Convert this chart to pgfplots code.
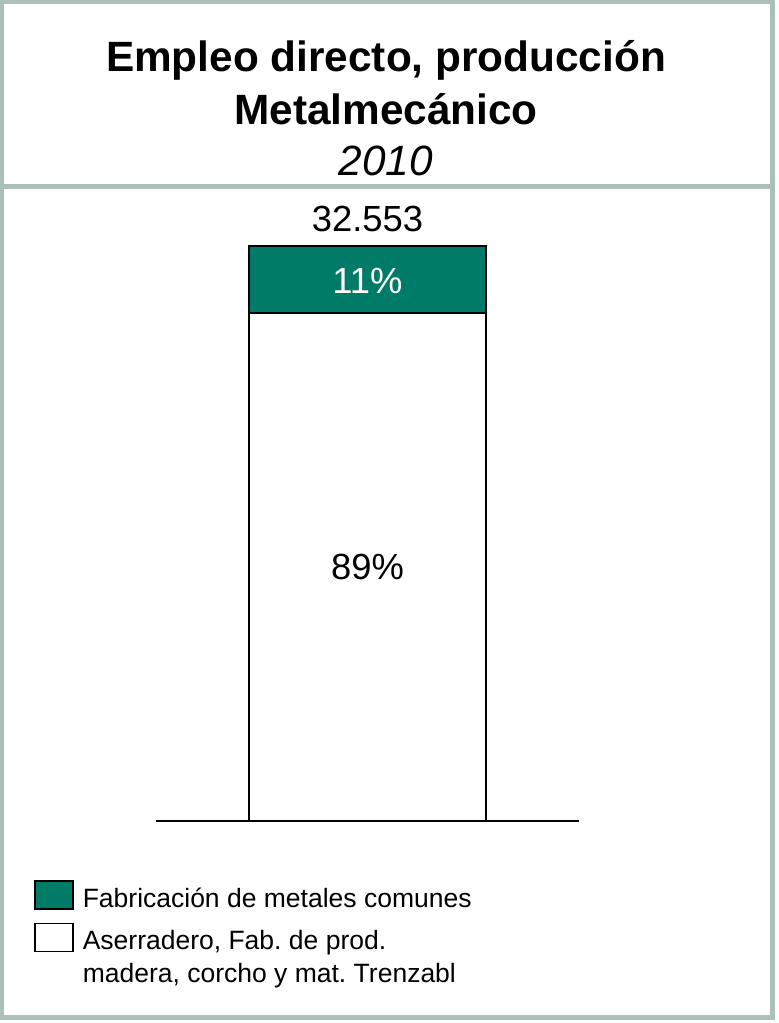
\documentclass[border=0pt]{standalone}
\usepackage{pgfplots}
\pgfplotsset{compat=1.18}
\usepackage{fontspec}
\setmainfont{Liberation Sans}
\frenchspacing
\definecolor{barteal}{RGB}{0,123,103}
\definecolor{framecol}{RGB}{170,192,184}
\pgfplotsset{
  legsqA/.style={legend image code/.code={\path[draw=none,fill=none] (0bp,-18.45bp) -- (0bp,18.45bp); \draw[##1] (0bp,-10.3bp) rectangle (38bp,17.7bp);}},
  legsqB/.style={legend image code/.code={\path[draw=none,fill=none] (0bp,-35.75bp) -- (0bp,35.75bp); \draw[##1] (0bp,-5bp) rectangle (38bp,23bp);}},
}

\begin{document}
\begin{tikzpicture}
\path[use as bounding box] (0bp,0bp) rectangle (779bp,1023bp);
\draw[framecol, line width=4.5bp] (1.5bp,5.5bp) rectangle (772.5bp,1021.5bp);
\draw[framecol, line width=5bp] (1.5bp,836.5bp) -- (772.5bp,836.5bp);
\node[anchor=base, font=\fontsize{42.5}{50}\selectfont\bfseries, inner sep=0pt] at (386bp,951.3bp) {Empleo directo, producción};
\node[anchor=base, font=\fontsize{42.5}{50}\selectfont\bfseries, inner sep=0pt] at (386bp,898.7bp) {Metalmecánico};
\node[anchor=base, font=\fontsize{42.5}{50}\selectfont\itshape, inner sep=0pt] at (386bp,847.5bp) {2010};
\begin{axis}[
  at={(156bp,202bp)}, anchor=south west,
  scale only axis, width=423bp, height=575bp,
  xmin=-0.8924, xmax=0.8924, ymin=0, ymax=100,
  ybar stacked, bar width=237bp,
  axis x line=bottom, axis y line=none,
  axis line style={-, line width=1.7bp, black},
  xtick=\empty, ytick=\empty,
  clip=false,
  reverse legend,
  legend cell align=left,
  legend style={at={(-0.2878,-0.10304)}, anchor=north west, draw=none, fill=none,
    inner sep=0pt, outer sep=0pt, row sep=-6.5bp, column sep=9bp,
    font=\fontsize{26.6}{33.5}\selectfont, nodes={inner sep=0pt}},
]
\addplot[fill=white, draw=black, line width=1.5bp, legsqB]
  coordinates {(0,88.35)};
\addlegendentry{\begin{tabular}{@{}l@{}}Aserradero, Fab. de prod.\\madera, corcho y mat. Trenzabl\end{tabular}}
\addplot[fill=barteal, draw=black, line width=1.5bp, legsqA]
  coordinates {(0,11.65)};
\addlegendentry{Fabricación de metales comunes}
\coordinate (totlab) at (axis cs:0,100);
\coordinate (toplab) at (axis cs:0,91.77);
\coordinate (botlab) at (axis cs:0,42.03);
\end{axis}
\node[anchor=base, inner sep=0pt, font=\fontsize{36.5}{40}\selectfont, yshift=14.3bp] at (totlab) {32.553};
\node[anchor=base, inner sep=0pt, font=\fontsize{36.5}{40}\selectfont, text=white] at (toplab) {11\%};
\node[anchor=base, inner sep=0pt, font=\fontsize{36.5}{40}\selectfont] at (botlab) {89\%};
\end{tikzpicture}
\end{document}
